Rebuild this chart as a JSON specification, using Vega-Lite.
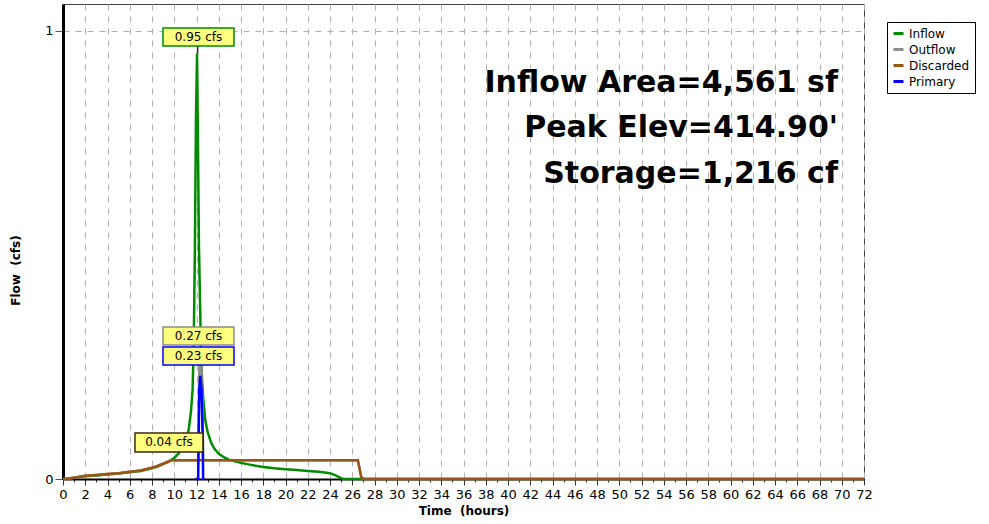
{
  "$schema": "https://vega.github.io/schema/vega-lite/v6.json",
  "width": 801,
  "height": 475,
  "autosize": {"type": "none"},
  "padding": {"left": 63, "top": 4, "right": 125, "bottom": 45},
  "background": "white",
  "config": {
    "view": {"stroke": "#444444", "strokeWidth": 1},
    "font": "DejaVu Sans",
    "axis": {"labelOverlap": false}
  },
  "datasets": {
    "flows": [
      {"t": 0, "v": 0, "s": "Inflow"},
      {"t": 0.5, "v": 0.001, "s": "Inflow"},
      {"t": 1, "v": 0.003, "s": "Inflow"},
      {"t": 2, "v": 0.006, "s": "Inflow"},
      {"t": 3, "v": 0.008, "s": "Inflow"},
      {"t": 4, "v": 0.01, "s": "Inflow"},
      {"t": 5, "v": 0.012, "s": "Inflow"},
      {"t": 6, "v": 0.015, "s": "Inflow"},
      {"t": 7, "v": 0.018, "s": "Inflow"},
      {"t": 8, "v": 0.024, "s": "Inflow"},
      {"t": 8.5, "v": 0.028, "s": "Inflow"},
      {"t": 9, "v": 0.033, "s": "Inflow"},
      {"t": 9.5, "v": 0.039, "s": "Inflow"},
      {"t": 10, "v": 0.047, "s": "Inflow"},
      {"t": 10.5, "v": 0.06, "s": "Inflow"},
      {"t": 11, "v": 0.085, "s": "Inflow"},
      {"t": 11.3, "v": 0.11, "s": "Inflow"},
      {"t": 11.5, "v": 0.15, "s": "Inflow"},
      {"t": 11.65, "v": 0.2, "s": "Inflow"},
      {"t": 11.75, "v": 0.3, "s": "Inflow"},
      {"t": 11.85, "v": 0.5, "s": "Inflow"},
      {"t": 11.95, "v": 0.8, "s": "Inflow"},
      {"t": 12.05, "v": 0.95, "s": "Inflow"},
      {"t": 12.15, "v": 0.7, "s": "Inflow"},
      {"t": 12.22, "v": 0.52, "s": "Inflow"},
      {"t": 12.3, "v": 0.42, "s": "Inflow"},
      {"t": 12.4, "v": 0.29, "s": "Inflow"},
      {"t": 12.5, "v": 0.22, "s": "Inflow"},
      {"t": 12.6, "v": 0.18, "s": "Inflow"},
      {"t": 12.8, "v": 0.13, "s": "Inflow"},
      {"t": 13, "v": 0.105, "s": "Inflow"},
      {"t": 13.3, "v": 0.082, "s": "Inflow"},
      {"t": 13.6, "v": 0.068, "s": "Inflow"},
      {"t": 14, "v": 0.056, "s": "Inflow"},
      {"t": 14.5, "v": 0.048, "s": "Inflow"},
      {"t": 15, "v": 0.042, "s": "Inflow"},
      {"t": 16, "v": 0.036, "s": "Inflow"},
      {"t": 17, "v": 0.031, "s": "Inflow"},
      {"t": 18, "v": 0.027, "s": "Inflow"},
      {"t": 19, "v": 0.024, "s": "Inflow"},
      {"t": 20, "v": 0.022, "s": "Inflow"},
      {"t": 21, "v": 0.02, "s": "Inflow"},
      {"t": 22, "v": 0.018, "s": "Inflow"},
      {"t": 23, "v": 0.016, "s": "Inflow"},
      {"t": 24, "v": 0.013, "s": "Inflow"},
      {"t": 24.5, "v": 0.008, "s": "Inflow"},
      {"t": 25, "v": 0.002, "s": "Inflow"},
      {"t": 25.2, "v": 0, "s": "Inflow"},
      {"t": 72, "v": 0, "s": "Inflow"},

      {"t": 0, "v": 0, "s": "Outflow"},
      {"t": 0.5, "v": 0.001, "s": "Outflow"},
      {"t": 1, "v": 0.003, "s": "Outflow"},
      {"t": 2, "v": 0.007, "s": "Outflow"},
      {"t": 3, "v": 0.009, "s": "Outflow"},
      {"t": 4, "v": 0.011, "s": "Outflow"},
      {"t": 5, "v": 0.013, "s": "Outflow"},
      {"t": 6, "v": 0.016, "s": "Outflow"},
      {"t": 7, "v": 0.019, "s": "Outflow"},
      {"t": 8, "v": 0.025, "s": "Outflow"},
      {"t": 8.5, "v": 0.029, "s": "Outflow"},
      {"t": 9, "v": 0.034, "s": "Outflow"},
      {"t": 9.5, "v": 0.039, "s": "Outflow"},
      {"t": 9.8, "v": 0.042, "s": "Outflow"},
      {"t": 12.15, "v": 0.042, "s": "Outflow"},
      {"t": 12.2, "v": 0.142, "s": "Outflow"},
      {"t": 12.25, "v": 0.242, "s": "Outflow"},
      {"t": 12.35, "v": 0.272, "s": "Outflow"},
      {"t": 12.45, "v": 0.242, "s": "Outflow"},
      {"t": 12.55, "v": 0.142, "s": "Outflow"},
      {"t": 12.6, "v": 0.042, "s": "Outflow"},
      {"t": 26.5, "v": 0.042, "s": "Outflow"},
      {"t": 26.6, "v": 0.03, "s": "Outflow"},
      {"t": 26.8, "v": 0.005, "s": "Outflow"},
      {"t": 27, "v": 0, "s": "Outflow"},
      {"t": 72, "v": 0, "s": "Outflow"},

      {"t": 0, "v": 0, "s": "Discarded"},
      {"t": 0.5, "v": 0.001, "s": "Discarded"},
      {"t": 1, "v": 0.003, "s": "Discarded"},
      {"t": 2, "v": 0.007, "s": "Discarded"},
      {"t": 3, "v": 0.009, "s": "Discarded"},
      {"t": 4, "v": 0.011, "s": "Discarded"},
      {"t": 5, "v": 0.013, "s": "Discarded"},
      {"t": 6, "v": 0.016, "s": "Discarded"},
      {"t": 7, "v": 0.019, "s": "Discarded"},
      {"t": 8, "v": 0.025, "s": "Discarded"},
      {"t": 8.5, "v": 0.029, "s": "Discarded"},
      {"t": 9, "v": 0.034, "s": "Discarded"},
      {"t": 9.5, "v": 0.039, "s": "Discarded"},
      {"t": 9.8, "v": 0.042, "s": "Discarded"},
      {"t": 26.5, "v": 0.042, "s": "Discarded"},
      {"t": 26.6, "v": 0.03, "s": "Discarded"},
      {"t": 26.8, "v": 0.005, "s": "Discarded"},
      {"t": 27, "v": 0, "s": "Discarded"},
      {"t": 72, "v": 0, "s": "Discarded"},

      {"t": 11.9, "v": 0, "s": "Primary"},
      {"t": 12.15, "v": 0, "s": "Primary"},
      {"t": 12.2, "v": 0.1, "s": "Primary"},
      {"t": 12.25, "v": 0.2, "s": "Primary"},
      {"t": 12.35, "v": 0.23, "s": "Primary"},
      {"t": 12.45, "v": 0.2, "s": "Primary"},
      {"t": 12.55, "v": 0.1, "s": "Primary"},
      {"t": 12.6, "v": 0, "s": "Primary"},
      {"t": 12.65, "v": 0, "s": "Primary"}
    ],
    "boxes": [
      {"x1": 8.99, "x2": 15.37, "y1": 0.9665, "y2": 1.0067, "s": "Inflow", "label": "0.95 cfs"},
      {"x1": 8.99, "x2": 15.37, "y1": 0.2991, "y2": 0.3393, "s": "Outflow", "label": "0.27 cfs"},
      {"x1": 8.99, "x2": 15.37, "y1": 0.2545, "y2": 0.2946, "s": "Primary", "label": "0.23 cfs"},
      {"x1": 6.47, "x2": 12.58, "y1": 0.0603, "y2": 0.1027, "s": "Discarded", "label": "0.04 cfs"}
    ],
    "notes": [
      {"t": 69.66, "v": 0.864, "label": "Inflow Area=4,561 sf"},
      {"t": 69.66, "v": 0.763, "label": "Peak Elev=414.90'"},
      {"t": 69.66, "v": 0.661, "label": "Storage=1,216 cf"}
    ]
  },
  "layer": [
    {
      "data": {"name": "flows"},
      "transform": [{"filter": "datum.s == 'Inflow'"}],
      "mark": {"type": "line", "strokeWidth": 2.5, "interpolate": "linear"},
      "encoding": {
        "x": {
          "field": "t", "type": "quantitative",
          "scale": {"domain": [0, 72], "nice": false, "zero": false},
          "axis": {
            "title": "Time\u00a0 (hours)",
            "titleFont": "DejaVu Sans", "titleFontSize": 12, "titleFontWeight": "bold", "titleColor": "black",
            "titlePadding": 4,
            "tickCount": 200,
            "values": [0,0.5,1,1.5,2,2.5,3,3.5,4,4.5,5,5.5,6,6.5,7,7.5,8,8.5,9,9.5,10,10.5,11,11.5,12,12.5,13,13.5,14,14.5,15,15.5,16,16.5,17,17.5,18,18.5,19,19.5,20,20.5,21,21.5,22,22.5,23,23.5,24,24.5,25,25.5,26,26.5,27,27.5,28,28.5,29,29.5,30,30.5,31,31.5,32,32.5,33,33.5,34,34.5,35,35.5,36,36.5,37,37.5,38,38.5,39,39.5,40,40.5,41,41.5,42,42.5,43,43.5,44,44.5,45,45.5,46,46.5,47,47.5,48,48.5,49,49.5,50,50.5,51,51.5,52,52.5,53,53.5,54,54.5,55,55.5,56,56.5,57,57.5,58,58.5,59,59.5,60,60.5,61,61.5,62,62.5,63,63.5,64,64.5,65,65.5,66,66.5,67,67.5,68,68.5,69,69.5,70,70.5,71,71.5,72],
            "labelExpr": "datum.value % 2 == 0 ? datum.label : ''",
            "format": "d",
            "labelOverlap": false,
            "labelFlush": false,
            "labelBound": false,
            "labelFont": "DejaVu Sans", "labelFontSize": 13, "labelColor": "black", "labelPadding": 3,
            "tickSize": {"condition": {"test": "datum.value % 2 == 0", "value": 6}, "value": 3},
            "tickColor": "#333333",
            "domainColor": "black", "domainWidth": 2,
            "grid": true,
            "gridColor": "#b0b0b0",
            "gridDash": [6, 6],
            "gridOpacity": {"condition": {"test": "datum.value % 2 == 0 && datum.value > 0", "value": 1}, "value": 0}
          }
        },
        "y": {
          "field": "v", "type": "quantitative",
          "scale": {"domain": [0, 1.06], "nice": false},
          "axis": {
            "title": "Flow\u00a0 (cfs)",
            "titleFont": "DejaVu Sans", "titleFontSize": 12, "titleFontWeight": "bold", "titleColor": "black",
            "titlePadding": 22,
            "titleY": 266,
            "tickCount": 20,
            "values": [0, 0.2, 0.4, 0.6, 0.8, 1],
            "labelExpr": "datum.value == 0 || datum.value == 1 ? datum.label : ''",
            "format": "d",
            "labelOverlap": false,
            "labelFont": "DejaVu Sans", "labelFontSize": 13, "labelColor": "black", "labelPadding": 2,
            "tickSize": {"condition": {"test": "datum.value == 0 || datum.value == 1", "value": 8}, "value": 5},
            "tickColor": "#555555",
            "domainColor": "black", "domainWidth": 3,
            "grid": true,
            "gridColor": "#b0b0b0",
            "gridDash": [6, 6],
            "gridOpacity": {"condition": {"test": "datum.value == 1", "value": 1}, "value": 0}
          }
        },
        "color": {
          "field": "s", "type": "nominal",
          "scale": {"domain": ["Inflow", "Outflow", "Discarded", "Primary"], "range": ["#008a00", "#8c8c8c", "#9a5514", "#0000ff"]},
          "legend": {
            "title": null,
            "orient": "none", "legendX": 824, "legendY": 18,
            "symbolType": "stroke", "symbolStrokeWidth": 3, "symbolSize": 100,
            "labelFont": "DejaVu Sans", "labelFontSize": 12, "labelColor": "black", "labelOffset": 4,
            "rowPadding": 3, "padding": 5,
            "fillColor": "white", "strokeColor": "black"
          }
        }
      }
    },
    {
      "data": {"name": "flows"},
      "transform": [{"filter": "datum.s == 'Outflow'"}],
      "mark": {"type": "line", "strokeWidth": 2.5},
      "encoding": {
        "x": {"field": "t", "type": "quantitative"},
        "y": {"field": "v", "type": "quantitative"},
        "color": {"field": "s", "type": "nominal"}
      }
    },
    {
      "data": {"name": "flows"},
      "transform": [{"filter": "datum.s == 'Discarded'"}],
      "mark": {"type": "line", "strokeWidth": 2.5},
      "encoding": {
        "x": {"field": "t", "type": "quantitative"},
        "y": {"field": "v", "type": "quantitative"},
        "color": {"field": "s", "type": "nominal"}
      }
    },
    {
      "data": {"name": "flows"},
      "transform": [{"filter": "datum.s == 'Primary'"}],
      "mark": {"type": "line", "strokeWidth": 2.5},
      "encoding": {
        "x": {"field": "t", "type": "quantitative"},
        "y": {"field": "v", "type": "quantitative"},
        "color": {"field": "s", "type": "nominal"}
      }
    },
    {
      "data": {"values": [{"t": 12.1, "a": 0.9665, "b": 0.95}]},
      "mark": {"type": "rule", "color": "#222222", "strokeWidth": 1.5},
      "encoding": {
        "x": {"field": "t", "type": "quantitative"},
        "y": {"field": "a", "type": "quantitative"},
        "y2": {"field": "b"}
      }
    },
    {
      "data": {"name": "boxes"},
      "mark": {"type": "rect", "fill": "#ffff80", "strokeWidth": 1.5},
      "encoding": {
        "x": {"field": "x1", "type": "quantitative"},
        "x2": {"field": "x2"},
        "y": {"field": "y1", "type": "quantitative"},
        "y2": {"field": "y2"},
        "stroke": {
          "field": "s", "type": "nominal",
          "scale": {"domain": ["Inflow", "Outflow", "Discarded", "Primary"], "range": ["#008a00", "#8c8c8c", "#3a2a10", "#0000ff"]},
          "legend": null
        }
      }
    },
    {
      "data": {"name": "boxes"},
      "transform": [
        {"calculate": "(datum.x1 + datum.x2) / 2", "as": "cx"},
        {"calculate": "(datum.y1 + datum.y2) / 2", "as": "cy"}
      ],
      "mark": {"type": "text", "font": "DejaVu Sans", "fontSize": 12, "color": "black", "align": "center", "baseline": "middle"},
      "encoding": {
        "x": {"field": "cx", "type": "quantitative"},
        "y": {"field": "cy", "type": "quantitative"},
        "text": {"field": "label"}
      }
    },
    {
      "data": {"name": "notes"},
      "mark": {"type": "text", "font": "DejaVu Sans", "fontSize": 30, "fontWeight": "bold", "color": "black", "align": "right", "baseline": "alphabetic"},
      "encoding": {
        "x": {"field": "t", "type": "quantitative"},
        "y": {"field": "v", "type": "quantitative"},
        "text": {"field": "label"}
      }
    }
  ]
}
